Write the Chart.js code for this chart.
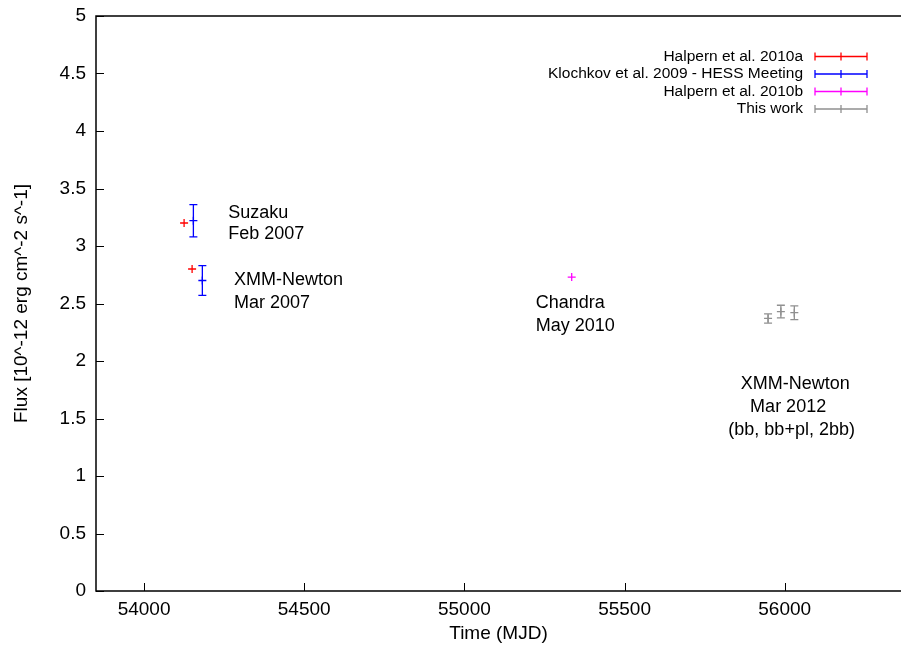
<!DOCTYPE html>
<html>
<head>
<meta charset="utf-8">
<script src="https://cdn.jsdelivr.net/npm/chart.js@4"></script>
<style>
  html, body { margin: 0; padding: 0; background: #fff; }
  #wrap { width: 901px; height: 648px; }
</style>
</head>
<body>
<div id="wrap"><canvas id="c" width="901" height="648"></canvas></div>
<script>
// data
const seriesNames = ["Halpern et al. 2010a", "Klochkov et al. 2009 - HESS Meeting", "Halpern et al. 2010b", "This work"];
const seriesColors = ["#ff0000", "#0000ff", "#ff00ff", "#909090"];

const halpernA_mjd = [54125, 54150];
const halpernA_flux = [3.20, 2.80];

const klochkov_mjd = [54154, 54182];
const klochkov_flux = [3.22, 2.70];
const klochkov_err = [0.14, 0.13];

const halpernB_mjd = [55335];
const halpernB_flux = [2.73];

const thisWork_mjd = [55948, 55988, 56030];
const thisWork_flux = [2.37, 2.43, 2.42];
const thisWork_err = [0.04, 0.055, 0.06];

const xTicks = [54000, 54500, 55000, 55500, 56000];
const yTicks = [0, 0.5, 1, 1.5, 2, 2.5, 3, 3.5, 4, 4.5, 5];

// text labels placed in data coordinates (mjd, flux)
const labelText = ["Suzaku", "Feb 2007", "XMM-Newton", "Mar 2007", "Chandra", "May 2010", "XMM-Newton", "Mar 2012", "(bb, bb+pl, 2bb)"];
const labelMjd = [54263, 54263, 54281, 54281, 55223, 55223, 55863, 55892, 55824];
const labelFlux = [3.29, 3.10, 2.70, 2.50, 2.50, 2.30, 1.80, 1.60, 1.40];

const FONT = "'Liberation Sans', Arial, Helvetica, sans-serif";

function pts(xs, ys, errs) {
  return xs.map((x, i) => ({ x: x, y: ys[i], e: errs ? errs[i] : 0 }));
}

const errorBars = {
  id: "errorBars",
  afterDatasetsDraw(chart) {
    const ctx = chart.ctx;
    const xs = chart.scales.x, ys = chart.scales.y;
    ctx.save();
    chart.data.datasets.forEach(ds => {
      ctx.strokeStyle = ds.borderColor;
      ctx.lineWidth = 1.3;
      ds.data.forEach(p => {
        if (!p.e) return;
        const px = xs.getPixelForValue(p.x);
        const top = ys.getPixelForValue(p.y + p.e);
        const bot = ys.getPixelForValue(p.y - p.e);
        ctx.beginPath();
        ctx.moveTo(px, top); ctx.lineTo(px, bot);
        ctx.moveTo(px - 4, top); ctx.lineTo(px + 4, top);
        ctx.moveTo(px - 4, bot); ctx.lineTo(px + 4, bot);
        ctx.stroke();
      });
    });
    ctx.restore();
  }
};

const frame = {
  id: "frame",
  afterDraw(chart) {
    const ctx = chart.ctx;
    const a = chart.chartArea;
    const xs = chart.scales.x, ys = chart.scales.y;
    ctx.save();
    ctx.strokeStyle = "#000";
    ctx.lineWidth = 1.5;
    ctx.beginPath();
    ctx.moveTo(chart.width, a.top); ctx.lineTo(a.left, a.top);
    ctx.lineTo(a.left, a.bottom); ctx.lineTo(chart.width, a.bottom);
    ctx.stroke();
    ctx.lineWidth = 1;
    ctx.beginPath();
    xTicks.forEach(v => {
      const px = Math.round(xs.getPixelForValue(v)) + 0.5;
      ctx.moveTo(px, a.bottom); ctx.lineTo(px, a.bottom - 8);
    });
    yTicks.forEach(v => {
      const py = Math.round(ys.getPixelForValue(v)) + 0.5;
      ctx.moveTo(a.left, py); ctx.lineTo(a.left + 8, py);
    });
    ctx.stroke();

    // text labels
    ctx.fillStyle = "#000";
    ctx.font = "18px " + FONT;
    ctx.textAlign = "left";
    ctx.textBaseline = "middle";
    labelText.forEach((t, i) => {
      ctx.fillText(t, xs.getPixelForValue(labelMjd[i]), ys.getPixelForValue(labelFlux[i]));
    });

    // key, top right
    ctx.font = "15.5px " + FONT;
    const keyRight = 803, lx0 = 815, lx1 = 867, lxc = 841;
    const rowY = [56.5, 74, 91.5, 109];
    seriesNames.forEach((name, i) => {
      const y = rowY[i];
      ctx.fillStyle = "#000";
      ctx.textAlign = "right";
      ctx.fillText(name, keyRight, y);
      ctx.strokeStyle = seriesColors[i];
      ctx.lineWidth = 1.3;
      ctx.beginPath();
      ctx.moveTo(lx0, y); ctx.lineTo(lx1, y);
      ctx.moveTo(lx0, y - 4); ctx.lineTo(lx0, y + 4);
      ctx.moveTo(lx1, y - 4); ctx.lineTo(lx1, y + 4);
      ctx.moveTo(lxc, y - 4); ctx.lineTo(lxc, y + 4);
      ctx.stroke();
    });
    ctx.restore();
  }
};

function mkSet(i, data) {
  return {
    label: seriesNames[i],
    data: data,
    borderColor: seriesColors[i],
    backgroundColor: seriesColors[i],
    pointStyle: "cross",
    pointRadius: 4,
    pointHoverRadius: 4,
    borderWidth: 1.3,
    showLine: false
  };
}

new Chart(document.getElementById("c"), {
  type: "scatter",
  data: {
    datasets: [
      mkSet(0, pts(halpernA_mjd, halpernA_flux)),
      mkSet(1, pts(klochkov_mjd, klochkov_flux, klochkov_err)),
      mkSet(2, pts(halpernB_mjd, halpernB_flux)),
      mkSet(3, pts(thisWork_mjd, thisWork_flux, thisWork_err))
    ]
  },
  options: {
    responsive: false,
    animation: false,
    layout: { autoPadding: false, padding: { top: 16, right: 0, left: 0, bottom: 0 } },
    plugins: { legend: { display: false }, tooltip: { enabled: false } },
    scales: {
      x: {
        type: "linear",
        min: 53850,
        max: 56363,
        afterBuildTicks: s => { s.ticks = xTicks.map(v => ({ value: v })); },
        afterFit: s => { s.height = 57; s.paddingLeft = 0; s.paddingRight = 0; },
        grid: { display: false, drawTicks: false },
        border: { display: false },
        ticks: { color: "#000", padding: 7, maxRotation: 0, callback: v => String(v), font: { family: FONT, size: 19 } },
        title: { display: true, text: "Time (MJD)", color: "#000", padding: { top: 0, bottom: 3 }, font: { family: FONT, size: 19, lineHeight: 1.2 } }
      },
      y: {
        min: 0,
        max: 5,
        afterBuildTicks: s => { s.ticks = yTicks.map(v => ({ value: v })); },
        afterFit: s => { s.width = 96; s.paddingTop = 0; s.paddingBottom = 0; },
        grid: { display: false, drawTicks: false },
        border: { display: false },
        ticks: { color: "#000", padding: 10, callback: v => String(v), font: { family: FONT, size: 19 } },
        title: { display: true, text: "Flux [10^-12 erg cm^-2 s^-1]", color: "#000", padding: { top: 10.5, bottom: 0 }, font: { family: FONT, size: 19, lineHeight: 1.2 } }
      }
    }
  },
  plugins: [errorBars, frame]
});
</script>
</body>
</html>
